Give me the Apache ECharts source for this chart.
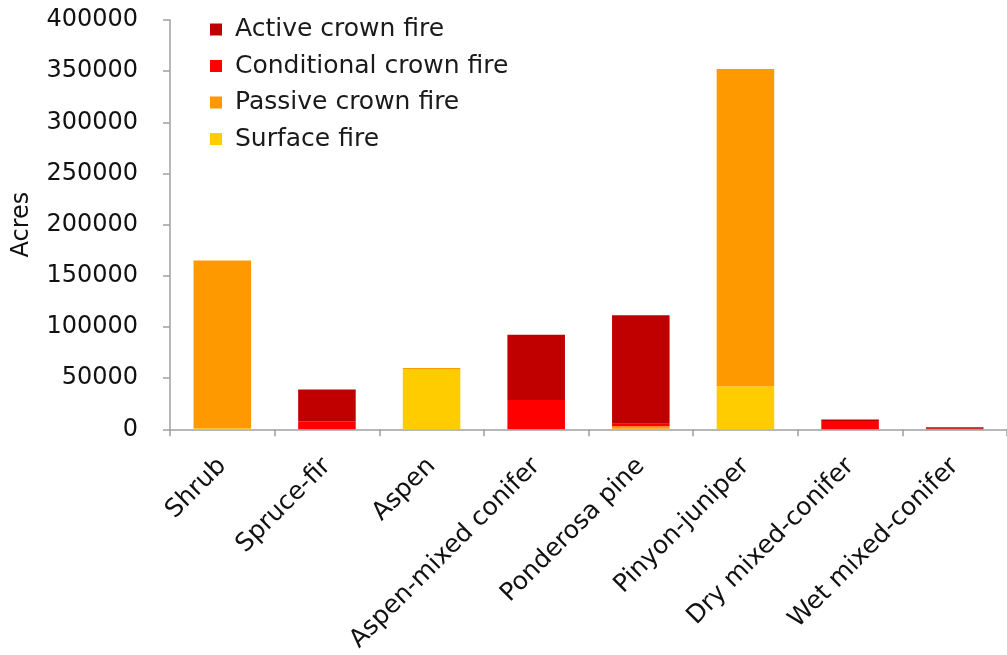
<!DOCTYPE html>
<html><head><meta charset="utf-8">
<script src="https://cdn.jsdelivr.net/npm/echarts@6/dist/echarts.min.js"></script>
<style>html,body{margin:0;padding:0;background:#fff}#c{width:1007px;height:655px}</style>
</head><body><div id="c"></div>
<script>
const categories = ["Shrub","Spruce-fir","Aspen","Aspen-mixed conifer","Ponderosa pine","Pinyon-juniper","Dry mixed-conifer","Wet mixed-conifer"];
const surfaceFire = [1000, 0, 59000, 0, 500, 42000, 0, 0];
const passiveCrown = [164000, 0, 1000, 0, 2500, 310000, 0, 0];
const conditionalCrown = [0, 7800, 0, 28500, 2500, 0, 8000, 500];
const activeCrown = [0, 31000, 0, 64000, 106000, 0, 1500, 1500];
const yTicks = [0, 400000, 50000];

const font = "'DejaVu Sans', 'Open Sans', sans-serif";
const chart = echarts.init(document.getElementById('c'), null, {renderer:'canvas'});
const mk = (name, data, color) => ({
  name, type:'bar', stack:'s', data, barWidth:'55%',
  itemStyle:{color},
  emphasis:{disabled:true}
});
chart.setOption({
  animation:false,
  textStyle:{fontFamily:font},
  grid:{left:170, top:20, height:412, width:844, containLabel:false},
  legend:{
    orient:'vertical', left:210, top:17, padding:0, itemWidth:12, itemHeight:12, itemGap:11.5,
    icon:'rect',
    data:["Active crown fire","Conditional crown fire","Passive crown fire","Surface fire"],
    textStyle:{fontSize:25, lineHeight:25, color:'#1a1a1a', fontFamily:font, padding:[0,0,0,8]}
  },
  xAxis:{
    type:'category', data:categories,
    axisLine:{lineStyle:{color:'#a0a0a0', width:1.5}},
    axisTick:{show:true, length:7, lineStyle:{color:'#a0a0a0', width:1.5}},
    axisLabel:{rotate:45, fontSize:25, color:'#111', interval:0, margin:33, fontFamily:font}
  },
  yAxis:{
    type:'value', min:yTicks[0], max:yTicks[1], interval:yTicks[2],
    name:'Acres', nameLocation:'middle', nameGap:136, nameRotate:90,
    nameTextStyle:{fontSize:24, color:'#111', fontFamily:font},
    splitLine:{show:false},
    axisLine:{show:true, lineStyle:{color:'#a0a0a0', width:1.5}},
    axisTick:{show:true, length:7, lineStyle:{color:'#a0a0a0', width:1.5}},
    axisLabel:{fontSize:24, color:'#111', margin:32, fontFamily:font, formatter:v=>String(v)}
  },
  series:[
    mk("Surface fire", surfaceFire, '#FFCC00'),
    mk("Passive crown fire", passiveCrown, '#FF9900'),
    mk("Conditional crown fire", conditionalCrown, '#FF0000'),
    mk("Active crown fire", activeCrown, '#C00000')
  ]
});
</script></body></html>
